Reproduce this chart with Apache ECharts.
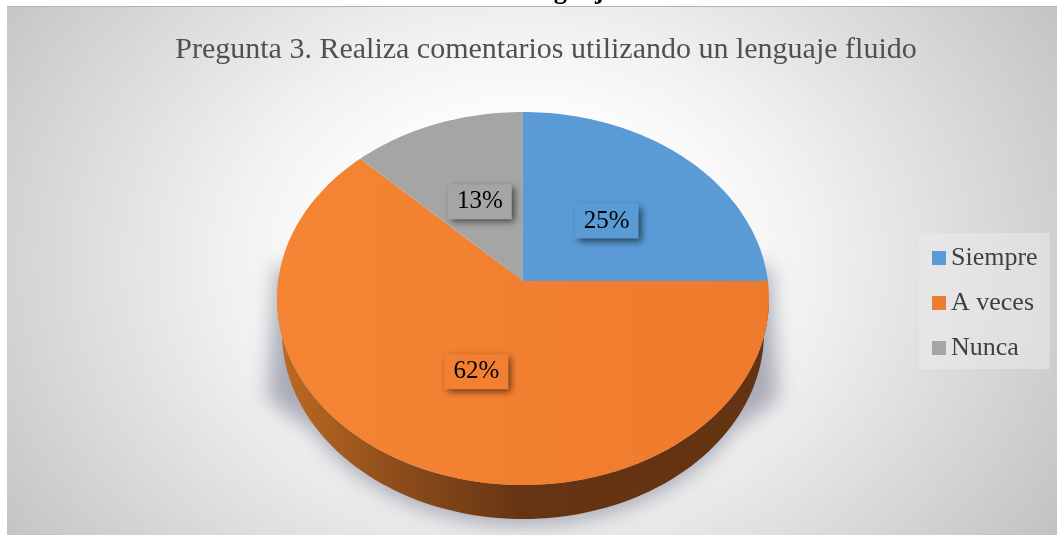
<!DOCTYPE html>
<html><head><meta charset="utf-8">
<style>
html,body{margin:0;padding:0;background:#fff;overflow:hidden}
#bg{position:absolute;left:7px;top:6px;width:1050px;height:528px;border-top:1px solid #b4b4b4;background:radial-gradient(ellipse 68% 108% at 49% 48%,#fff 22%,#f2f2f2 40%,#bfbfbf 92%);}
#main{position:absolute;left:0;top:0;width:1057px;height:535px}
</style>
<script src="https://cdn.jsdelivr.net/npm/echarts@6/dist/echarts.min.js"></script>
</head><body><div id="bg"></div><div id="main"></div>
<script>
const categories = ['Siempre', 'A veces', 'Nunca'];
const seriesValues = [25, 62, 13];
const percentLabels = ['25%', '62%', '13%'];
const chartTitle = 'Pregunta 3. Realiza comentarios utilizando un lenguaje fluido';
const captionAbove = 'Gráfico 3. Realiza comentarios dentro de un lenguaje fluido.';

const sliceColors = ['#5B9BD5', '#ED7D31', '#A5A5A5'];
const APEX = {x: 523, y: 281};
const FACE = {cx: 523, cy: 298.5, rx: 246, ry: 186.5};
const BASE_RX = 241;
const DEPTH = 34, TILT = 0.8;
const LABEL_REACH = [114, 124, 110];
const LABEL_NUDGE = [[3, 4.5], [-1, -1.5], [0.5, 1.5]];
const LABEL_W = 64, LABEL_H = 35;
const OFFSCREEN = 3000;
const total = seriesValues.reduce((a, b) => a + b, 0);
const toAngle = v => v / total * Math.PI * 2;

// ray from the tilted pie's apex to the elliptical rim
function rim(theta) {
  const dx = Math.sin(theta), dy = -Math.cos(theta) * TILT;
  const ox = APEX.x - FACE.cx, oy = APEX.y - FACE.cy;
  const a = dx * dx / (FACE.rx * FACE.rx) + dy * dy / (FACE.ry * FACE.ry);
  const b = 2 * (ox * dx / (FACE.rx * FACE.rx) + oy * dy / (FACE.ry * FACE.ry));
  const c = ox * ox / (FACE.rx * FACE.rx) + oy * oy / (FACE.ry * FACE.ry) - 1;
  const t = (-b + Math.sqrt(b * b - 4 * a * c)) / (2 * a);
  return [APEX.x + dx * t, APEX.y + dy * t];
}
function lowerBand() {
  const pts = [];
  for (let i = 0; i <= 90; i++) {
    const t = Math.PI * i / 90;
    pts.push([FACE.cx + FACE.rx * Math.cos(t), FACE.cy + FACE.ry * Math.sin(t)]);
  }
  for (let i = 90; i >= 0; i--) {
    const t = Math.PI * i / 90;
    pts.push([FACE.cx + BASE_RX * Math.cos(t), FACE.cy + DEPTH + FACE.ry * Math.sin(t)]);
  }
  return pts;
}
// soft cast shadow: the rim of the base plus two flaring flanks
function shadowShape() {
  const pts = [[FACE.cx + FACE.rx + 1, APEX.y - 14], [FACE.cx + FACE.rx + 9, FACE.cy + 100]];
  for (let i = 15; i <= 75; i++) {
    const t = Math.PI * i / 90;
    pts.push([FACE.cx + BASE_RX * Math.cos(t), FACE.cy + DEPTH + 6 + FACE.ry * Math.sin(t)]);
  }
  pts.push([FACE.cx - FACE.rx - 9, FACE.cy + 100], [FACE.cx - FACE.rx - 1, APEX.y - 14]);
  return pts.map(p => [p[0] - OFFSCREEN, p[1]]);
}
function linear(x0, x1, stops) {
  return new echarts.graphic.LinearGradient(x0, 0, x1, 0, stops);
}

function sliceSeries(name, i) {
  const start = seriesValues.slice(0, i).reduce((a, b) => a + b, 0);
  return {
    type: 'custom', name, coordinateSystem: 'none', z: 5, silent: true,
    itemStyle: {color: sliceColors[i]},
    data: [seriesValues[i]],
    renderItem(params, api) {
      const a0 = toAngle(start), a1 = a0 + toAngle(api.value(0));
      const pts = [[APEX.x, APEX.y]];
      const n = Math.ceil((a1 - a0) * 40);
      for (let k = 0; k <= n; k++) pts.push(rim(a0 + (a1 - a0) * k / n));
      const mid = (a0 + a1) / 2, reach = LABEL_REACH[i];
      const lx = APEX.x + Math.sin(mid) * reach + LABEL_NUDGE[i][0];
      const ly = APEX.y - Math.cos(mid) * TILT * reach + LABEL_NUDGE[i][1];
      const fill = i === 1
        ? linear(0, 1, [{offset: 0, color: '#F68435'}, {offset: 1, color: '#EE7B2C'}])
        : sliceColors[i];
      return {type: 'group', children: [
        {type: 'polygon', shape: {points: pts}, style: {fill}},
        {type: 'rect', z2: 9,
          shape: {x: lx - LABEL_W / 2, y: ly - LABEL_H / 2, width: LABEL_W, height: LABEL_H},
          style: {fill: i === 1 ? '#F38032' : sliceColors[i], shadowBlur: 7, shadowColor: 'rgba(0,0,0,0.6)', shadowOffsetX: 3, shadowOffsetY: 3}},
        {type: 'text', z2: 10, x: lx, y: ly,
          style: {text: percentLabels[i], font: '25px "Liberation Serif"', fill: '#000',
            align: 'center', verticalAlign: 'middle'}}
      ]};
    }
  };
}

const option = {
  animation: false,
  backgroundColor: 'transparent',
  title: {text: chartTitle, left: 541, top: 30, textAlign: 'center',
    textStyle: {fontFamily: 'Liberation Serif', fontSize: 30, fontWeight: 'normal', color: '#505050'}},
  legend: {
    data: categories, orient: 'vertical', left: 919, top: 233, width: 132, height: 136,
    padding: [12, 12, 8, 13], itemGap: 19, itemWidth: 14, itemHeight: 14, icon: 'rect',
    backgroundColor: 'rgba(235,235,235,0.55)', selectedMode: false,
    textStyle: {fontFamily: 'Liberation Serif', fontSize: 26, color: '#404040'}
  },
  graphic: [{type: 'text', x: 14, y: -22.5, silent: true,
    style: {text: captionAbove, font: 'bold 26.5px "Liberation Serif"', fill: '#000'}}],
  series: [
    {type: 'custom', coordinateSystem: 'none', name: 'sombra', z: 2, silent: true, data: [0],
      renderItem() {
        return {type: 'polygon', shape: {points: shadowShape()},
          style: {fill: '#888', shadowBlur: 20, shadowColor: 'rgba(150,153,168,0.8)', shadowOffsetX: OFFSCREEN}};
      }},
    {type: 'custom', coordinateSystem: 'none', name: 'lateral', z: 3, silent: true, data: [0],
      renderItem() {
        return {type: 'polygon', shape: {points: lowerBand()},
          style: {fill: linear(0, 1, [{offset: 0, color: '#BF6A23'}, {offset: 0.25, color: '#8C4C1B'}, {offset: 0.5, color: '#663412'}, {offset: 1, color: '#643311'}])}};
      }},
    ...categories.map(sliceSeries)
  ]
};
const chart = echarts.init(document.getElementById('main'), null, {renderer: 'canvas'});
chart.setOption(option);
</script></body></html>
